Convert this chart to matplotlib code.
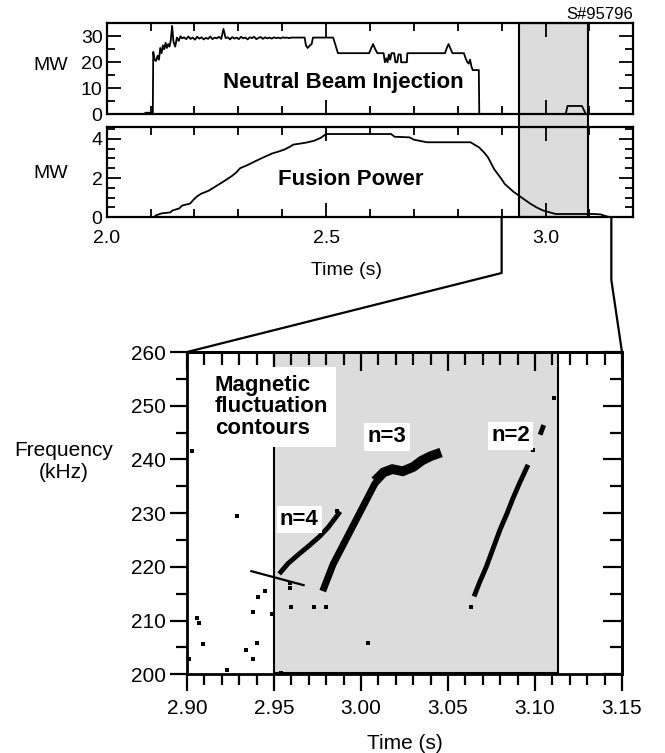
import matplotlib
matplotlib.use("Agg")
import matplotlib.pyplot as plt
from matplotlib.patches import Rectangle
from matplotlib.lines import Line2D
from matplotlib.ticker import MultipleLocator, NullFormatter, FormatStrFormatter

plt.rcParams["font.family"] = ["Liberation Sans", "DejaVu Sans"]

GRAY = "#dcdcdc"
SHOT = "S#95796"

# --------------------------------------------------------------------------
# Top panels: NBI and fusion power (MW) vs time (s)
# --------------------------------------------------------------------------
nbi_t = [2.000, 2.087, 2.088, 2.105, 2.106, 2.109, 2.112, 2.116, 2.119, 2.122,
         2.125, 2.128, 2.131, 2.134, 2.137, 2.140, 2.143, 2.146, 2.149, 2.152,
         2.156, 2.160, 2.164, 2.168, 2.172,
         2.176, 2.181, 2.186, 2.191, 2.196, 2.201, 2.206, 2.211, 2.216, 2.221,
         2.226, 2.231, 2.236, 2.241, 2.246, 2.251, 2.256, 2.261, 2.266, 2.271,
         2.276, 2.281, 2.286, 2.291, 2.296, 2.301, 2.306, 2.311, 2.316, 2.321,
         2.326, 2.331, 2.336, 2.341, 2.346, 2.351, 2.356, 2.361, 2.366, 2.371,
         2.376, 2.381, 2.386, 2.391, 2.396, 2.401, 2.406, 2.411, 2.416, 2.421,
         2.426, 2.431, 2.436, 2.441,
         2.446, 2.451, 2.454, 2.458, 2.463, 2.467, 2.470, 2.516, 2.527, 2.598,
         2.603, 2.607, 2.612, 2.617, 2.631, 2.634, 2.637, 2.640, 2.643, 2.646,
         2.649, 2.655, 2.658, 2.662, 2.665, 2.670, 2.671, 2.684, 2.685, 2.771,
         2.775, 2.779, 2.784, 2.788, 2.814, 2.818, 2.822, 2.825, 2.828, 2.831,
         2.834, 2.848, 2.849, 3.046, 3.050, 3.083, 3.092, 3.147]
nbi_p = [0.0, 0.0, 0.6, 0.6, 24.0, 21.0, 20.5, 22.5, 21.0, 25.5,
         23.5, 26.5, 25.0, 27.5, 25.5, 27.0, 26.0, 28.5, 34.0, 28.0,
         26.0, 29.5, 28.2, 30.0, 29.2,
         29.6, 28.9, 29.9, 29.0, 29.5, 28.7, 29.8, 29.1, 29.6, 28.8,
         29.4, 29.0, 29.9, 28.9, 29.5, 29.2, 29.8, 29.0, 32.8, 29.3,
         29.6, 28.8, 29.7, 29.1, 29.5, 28.9, 29.8, 29.2, 29.5, 28.8,
         29.6, 29.3, 29.8, 28.9, 29.4, 29.7, 29.0, 29.6, 29.2, 29.5,
         29.1, 29.6, 29.3, 29.5, 29.2, 29.6, 29.4, 29.5, 29.3, 29.5,
         29.5, 29.5, 29.5, 29.5,
         29.5, 29.5, 26.5, 25.5, 26.5, 27.0, 29.5, 29.5, 23.5, 23.5,
         25.5, 27.0, 25.0, 23.5, 23.5, 20.0, 21.5, 20.0, 23.0, 21.0,
         23.5, 23.5, 20.0, 20.0, 23.0, 23.0, 20.0, 20.0, 23.5, 23.5,
         25.5, 27.0, 25.0, 23.5, 23.5, 21.5, 20.0, 19.5, 21.0, 18.5,
         17.0, 17.0, 0.0, 0.0, 3.2, 3.2, 0.0, 0.0]

fus_t = [2.000, 2.108, 2.112, 2.125, 2.145, 2.150, 2.165, 2.172, 2.190, 2.198,
         2.205, 2.215, 2.232, 2.250, 2.261, 2.275, 2.285, 2.296, 2.304, 2.320,
         2.338, 2.357, 2.377, 2.392, 2.405, 2.418, 2.425, 2.440, 2.454, 2.473,
         2.488, 2.500, 2.648, 2.656, 2.690, 2.700, 2.730, 2.829, 2.838, 2.849,
         2.860, 2.869, 2.876, 2.883, 2.898, 2.907, 2.917, 2.927, 2.946, 2.965,
         2.980, 2.994, 3.010, 3.023, 3.110, 3.125, 3.139, 3.149]
fus_p = [0.0, 0.0, 0.1, 0.2, 0.25, 0.35, 0.45, 0.6, 0.7, 0.9,
         1.05, 1.2, 1.35, 1.6, 1.75, 1.95, 2.1, 2.3, 2.5, 2.65,
         2.85, 3.05, 3.25, 3.35, 3.45, 3.6, 3.7, 3.75, 3.8, 3.9,
         4.05, 4.24, 4.24, 4.1, 4.07, 3.95, 3.82, 3.82, 3.7, 3.55,
         3.3, 3.05, 2.75, 2.45, 2.0, 1.7, 1.5, 1.3, 1.0, 0.7,
         0.5, 0.35, 0.25, 0.17, 0.17, 0.15, 0.05, 0.0]

top_window = (2.94, 3.096)        # shaded interval on the power traces

# --------------------------------------------------------------------------
# Bottom panel: magnetic fluctuation contours (time s, frequency kHz)
# --------------------------------------------------------------------------
zoom_xlim = (2.90, 3.15)
zoom_ylim = (200, 260)
zoom_window = (2.95, 3.113)

n4_t = [2.953, 2.958, 2.964, 2.970, 2.976, 2.981, 2.985, 2.988]
n4_f = [218.7, 220.6, 222.3, 223.9, 225.6, 227.3, 229.0, 230.3]

n3_t = [2.978, 2.981, 2.984, 2.988, 2.992, 2.996, 3.000, 3.004, 3.008, 3.012]
n3_f = [215.5, 218.0, 220.5, 223.0, 225.5, 228.0, 230.5, 233.0, 235.5, 237.0]
n3_top_t = [3.008, 3.013, 3.018, 3.024, 3.030, 3.035, 3.040, 3.046]
n3_top_f = [236.0, 237.6, 238.2, 237.8, 238.6, 239.8, 240.6, 241.3]

n2_t = [3.065, 3.068, 3.072, 3.076, 3.080, 3.084, 3.087, 3.091, 3.096]
n2_f = [214.5, 217.0, 220.0, 223.5, 227.0, 230.0, 232.5, 235.5, 239.0]
n2_top_t = [3.103, 3.105]
n2_top_f = [244.6, 246.4]

speck_t = [2.901, 2.906, 2.907, 2.909, 2.923, 2.929, 2.934, 2.938, 2.940, 2.938,
           2.941, 2.945, 2.949, 2.959, 2.960, 2.954, 3.004, 2.903, 3.063, 3.099,
           3.111, 2.980, 2.973, 2.986, 2.959]
speck_f = [202.8, 210.5, 209.5, 205.6, 200.8, 229.4, 204.5, 211.6, 205.8, 202.8,
           214.4, 215.6, 211.3, 216.0, 212.5, 200.3, 205.8, 241.6, 212.5, 241.7,
           251.5, 212.5, 212.5, 230.4, 217.0]

pointer_t = [2.937, 2.967]
pointer_f = [219.2, 216.6]

mode_labels = ["n=4", "n=3", "n=2"]
mode_label_t = [2.9645, 3.015, 3.086]
mode_label_f = [228.8, 244.2, 244.4]


fig = plt.figure(figsize=(6.65, 7.53), dpi=100)
ax1 = fig.add_axes([0.1605, 0.8482, 0.7918, 0.1209], facecolor="none")
ax2 = fig.add_axes([0.1605, 0.7114, 0.7918, 0.1195], facecolor="none")
ax3 = fig.add_axes([0.2812, 0.1045, 0.6541, 0.4280])

# ---- power traces
ax1.plot(nbi_t, nbi_p, color="black", lw=1.3)
ax2.plot(fus_t, fus_p, color="black", lw=1.3)

for ax in (ax1, ax2):
    ax.set_xlim(2.0, 3.2)
    ax.xaxis.set_major_locator(MultipleLocator(0.5))
    ax.xaxis.set_minor_locator(MultipleLocator(0.1))
    ax.tick_params(which="both", direction="in", top=True, right=True,
                   width=1.3, labelsize=14)
    ax.tick_params(which="major", length=10)
    ax.tick_params(which="minor", length=6)
    for s in ax.spines.values():
        s.set_linewidth(1.6)

ax1.set_ylim(0, 35)
ax1.yaxis.set_major_locator(MultipleLocator(10))
ax1.yaxis.set_minor_locator(MultipleLocator(5))
ax1.tick_params(labelbottom=False, pad=3)
ax1.set_ylabel("MW", rotation=0, fontsize=14, ha="right", va="center")
ax1.yaxis.set_label_coords(-0.073, 0.54)
ax1.text(2.54, 12.4, "Neutral Beam Injection", ha="center", va="center",
         fontsize=16, fontweight="bold")

ax2.set_ylim(0, 4.58)
ax2.yaxis.set_major_locator(MultipleLocator(2))
ax2.yaxis.set_minor_locator(MultipleLocator(0.5))
ax2.tick_params(axis="y", pad=3)
ax2.tick_params(axis="x", pad=9)
ax2.xaxis.set_major_formatter(FormatStrFormatter("%.1f"))
ax2.set_ylabel("MW", rotation=0, fontsize=14, ha="right", va="center")
ax2.yaxis.set_label_coords(-0.073, 0.49)
ax2.set_xlabel("Time (s)", fontsize=14)
ax2.xaxis.set_label_coords(0.456, -0.50)
ax2.text(2.555, 1.9, "Fusion Power", ha="center", va="center",
         fontsize=16, fontweight="bold")

fig.text(0.952, 0.981, SHOT, ha="right", va="center", fontsize=12)

# shaded window spanning both power panels (and the gap between them)
inv = fig.transFigure.inverted()
wx0 = inv.transform(ax2.transData.transform((top_window[0], 0)))[0]
wx1 = inv.transform(ax2.transData.transform((top_window[1], 0)))[0]
y_lo = ax2.get_position().y0
y_hi = ax1.get_position().y1
fig.patches.append(Rectangle((wx0, y_lo), wx1 - wx0, y_hi - y_lo,
                             transform=fig.transFigure, facecolor=GRAY,
                             edgecolor="black", lw=1.5, zorder=-1))

# ---- magnetic fluctuation contours
ax3.set_xlim(*zoom_xlim)
ax3.set_ylim(*zoom_ylim)
ax3.add_patch(Rectangle((zoom_window[0], 200.3), zoom_window[1] - zoom_window[0],
                        zoom_ylim[1] - 200.3, facecolor=GRAY, edgecolor="black",
                        lw=1.5, zorder=0))

band = dict(color="black", solid_capstyle="butt", solid_joinstyle="miter", zorder=3)
ax3.plot(n4_t, n4_f, lw=3.5, **band)
ax3.plot(n3_t, n3_f, lw=5, **band)
ax3.plot(n3_top_t, n3_top_f, lw=7, **band)
ax3.plot(n2_t, n2_f, lw=3.5, **band)
ax3.plot(n2_top_t, n2_top_f, lw=3.5, **band)
ax3.scatter(speck_t, speck_f, marker="s", s=9, color="black", lw=0, zorder=3)
ax3.plot(pointer_t, pointer_f, color="black", lw=1.6, zorder=3)

box = dict(boxstyle="square,pad=0.15", facecolor="white", edgecolor="none")
for lab, t, f in zip(mode_labels, mode_label_t, mode_label_f):
    ax3.text(t, f, lab, ha="center", va="center", fontsize=16,
             fontweight="bold", bbox=box, zorder=4)
ax3.text(2.916, 249.8, "Magnetic\nfluctuation\ncontours", ha="left", va="center",
         fontsize=16, fontweight="bold", linespacing=1.05,
         bbox=dict(boxstyle="square,pad=0.35", facecolor="white", edgecolor="none"),
         zorder=4)

ax3.xaxis.set_major_locator(MultipleLocator(0.05))
ax3.xaxis.set_minor_locator(MultipleLocator(0.01))
ax3.xaxis.set_major_formatter(FormatStrFormatter("%.2f"))
ax3.yaxis.set_major_locator(MultipleLocator(10))
ax3.yaxis.set_minor_locator(MultipleLocator(5))
ax3.tick_params(which="both", direction="out", width=1.6, labelsize=15)
ax3.tick_params(which="major", length=12)
ax3.tick_params(which="minor", length=8)
ax3.tick_params(axis="x", pad=6)
ax3.tick_params(axis="y", pad=3)
for s in ax3.spines.values():
    s.set_linewidth(2)

secx = ax3.secondary_xaxis("top")
secx.xaxis.set_major_locator(MultipleLocator(0.05))
secx.xaxis.set_minor_locator(MultipleLocator(0.01))
secx.xaxis.set_major_formatter(NullFormatter())
secx.tick_params(which="both", direction="in", width=1.6)
secx.tick_params(which="major", length=14)
secx.tick_params(which="minor", length=9)
secy = ax3.secondary_yaxis("right")
secy.yaxis.set_major_locator(MultipleLocator(10))
secy.yaxis.set_minor_locator(MultipleLocator(5))
secy.yaxis.set_major_formatter(NullFormatter())
secy.tick_params(which="both", direction="in", width=1.6)
secy.tick_params(which="major", length=14)
secy.tick_params(which="minor", length=9)
for sa in (secx, secy):
    for s in sa.spines.values():
        s.set_linewidth(2)

ax3.set_xlabel("Time (s)", fontsize=15, labelpad=11)
ax3.set_ylabel("Frequency\n(kHz)", rotation=0, fontsize=15, ha="center", va="center")
ax3.yaxis.set_label_coords(-0.283, 0.66)

# ---- zoom connector lines, drawn in figure fraction
def fig_xy(ax, x, y):
    return inv.transform(ax.transData.transform((x, y)))

for t, y_kink in ((zoom_xlim[0], 1 - 273 / 753), (zoom_xlim[1], 1 - 280 / 753)):
    x_top, y_top = fig_xy(ax2, t, 0)
    x_bot, y_bot = fig_xy(ax3, t, zoom_ylim[1])
    fig.add_artist(Line2D([x_top, x_top, x_bot], [y_top, y_kink, y_bot],
                          transform=fig.transFigure, color="black", lw=1.6))

fig.savefig("out.png", dpi=100)
